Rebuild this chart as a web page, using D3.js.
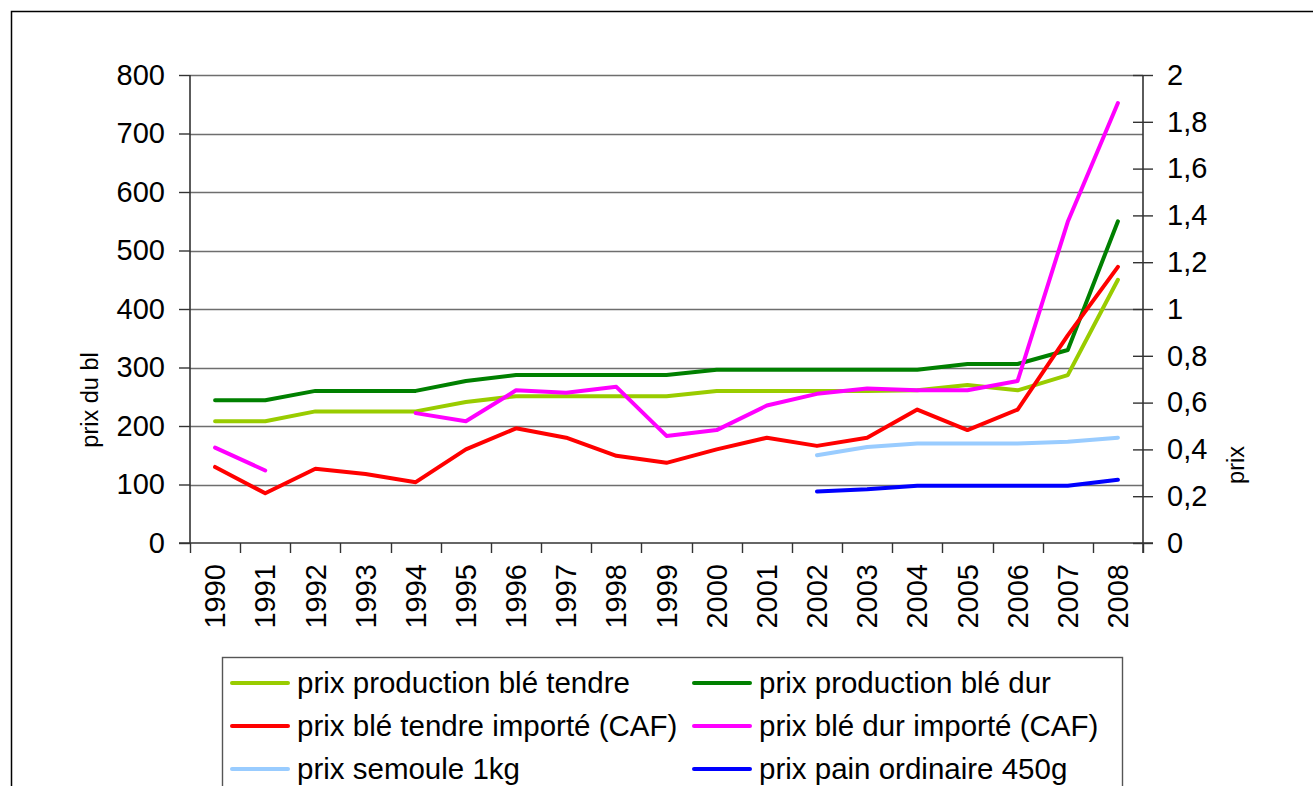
<!DOCTYPE html>
<html>
<head>
<meta charset="utf-8">
<script src="https://cdn.jsdelivr.net/npm/d3@7"></script>
<style>
  html, body { margin: 0; padding: 0; background: #fff; }
  svg { display: block; font-family: "Liberation Sans", Arial, sans-serif; }
</style>
</head>
<body>
<svg id="chart" width="1313" height="786"></svg>
<script>
const years = ["1990", "1991", "1992", "1993", "1994", "1995", "1996", "1997", "1998", "1999",
  "2000", "2001", "2002", "2003", "2004", "2005", "2006", "2007", "2008"];

// left axis series (prix du blé)
const prodTendre = [208, 208, 225, 225, 225, 241, 251, 251, 251, 251, 260, 260, 260, 260, 261, 270, 261, 287, 450];
const prodDur = [244, 244, 260, 260, 260, 277, 287, 287, 287, 287, 296, 296, 296, 296, 296, 306, 306, 330, 550];
const tendreImporte = [130, 85, 127, 118, 104, 160, 196, 180, 149, 137, 160, 180, 166, 180, 228, 193, 228, 355, 472];
const durImporte = [163, 124, null, null, 222, 208, 261, 257, 267, 183, 193, 235, 255, 264, 261, 261, 277, 549, 752];

// right axis series (prix)
const semoule = [null, null, null, null, null, null, null, null, null, null, null, null, 0.375, 0.41, 0.425, 0.425, 0.425, 0.433, 0.45];
const pain = [null, null, null, null, null, null, null, null, null, null, null, null, 0.22, 0.23, 0.245, 0.245, 0.245, 0.245, 0.27];

const leftTicks = [0, 100, 200, 300, 400, 500, 600, 700, 800];
const rightTicks = [0, 0.2, 0.4, 0.6, 0.8, 1, 1.2, 1.4, 1.6, 1.8, 2];

const series = [
  { name: "prix production blé tendre", values: prodTendre, axis: "left", color: "#99cc00" },
  { name: "prix production blé dur", values: prodDur, axis: "left", color: "#008000" },
  { name: "prix blé tendre importé (CAF)", values: tendreImporte, axis: "left", color: "#ff0000" },
  { name: "prix blé dur importé (CAF)", values: durImporte, axis: "left", color: "#ff00ff" },
  { name: "prix semoule 1kg", values: semoule, axis: "right", color: "#99ccff" },
  { name: "prix pain ordinaire 450g", values: pain, axis: "right", color: "#0000ff" },
];

const svg = d3.select("#chart");
const plot = { left: 190, right: 1143, top: 75, bottom: 543 };

// outer chart frame (runs off the right and bottom edges)
svg.append("rect")
  .attr("x", 11.5).attr("y", 11.5)
  .attr("width", 1340).attr("height", 820)
  .attr("fill", "#fff").attr("stroke", "#000").attr("stroke-width", 1.5);

const x = d3.scaleBand().domain(years).range([plot.left, plot.right]);
const yLeft = d3.scaleLinear().domain([0, 800]).range([plot.bottom, plot.top]);
const yRight = d3.scaleLinear().domain([0, 2]).range([plot.bottom, plot.top]);
const fmtRight = (d) => String(+d.toFixed(1)).replace(".", ",");

// gridlines
svg.append("g")
  .selectAll("line")
  .data(leftTicks.slice(1))
  .join("line")
  .attr("x1", plot.left).attr("x2", plot.right)
  .attr("y1", (d) => Math.round(yLeft(d)) + 0.5)
  .attr("y2", (d) => Math.round(yLeft(d)) + 0.5)
  .attr("stroke", "#6e6e6e").attr("stroke-width", 1.4);

// left axis
const gLeft = svg.append("g")
  .attr("transform", `translate(${plot.left},0)`)
  .call(d3.axisLeft(yLeft).tickValues(leftTicks).tickSize(11).tickPadding(14));

// right axis
const gRight = svg.append("g")
  .attr("transform", `translate(${plot.right},0)`)
  .call(d3.axisRight(yRight).tickValues(rightTicks).tickSize(10).tickPadding(14).tickFormat(fmtRight));
gRight.selectAll(".tick line").attr("x1", -10);

// bottom axis with ticks between categories
const gBottom = svg.append("g")
  .attr("transform", `translate(0,${plot.bottom})`)
  .call(d3.axisBottom(x).tickSize(0).tickPadding(0));
gBottom.selectAll(".tick text")
  .attr("transform", "rotate(-90)")
  .attr("text-anchor", "end")
  .attr("dx", "-21px")
  .attr("dy", "0.35em");
gBottom.selectAll("line.sep")
  .data(years.concat(["end"]))
  .join("line")
  .attr("class", "sep")
  .attr("x1", (d, i) => Math.round(plot.left + i * x.bandwidth()) + 0.5)
  .attr("x2", (d, i) => Math.round(plot.left + i * x.bandwidth()) + 0.5)
  .attr("y1", 0).attr("y2", 10)
  .attr("stroke", "#333").attr("stroke-width", 1.4);

[gLeft, gRight, gBottom].forEach((g) => {
  g.select(".domain").attr("stroke", "#333").attr("stroke-width", 1.6);
  g.selectAll(".tick line").attr("stroke", "#333").attr("stroke-width", 1.4);
  g.selectAll(".tick text")
    .attr("fill", "#000")
    .attr("font-size", 29)
    .attr("font-family", "Liberation Sans, Arial, sans-serif");
});
gLeft.select(".domain").attr("d", `M0,${plot.top}V${plot.bottom}`);
gRight.select(".domain").attr("d", `M0,${plot.top}V${plot.bottom + 10}`);
gBottom.select(".domain").attr("d", `M${plot.left - 11},0H${plot.right + 10}`);

// axis titles
svg.append("text")
  .attr("transform", "translate(98,400) rotate(-90)")
  .attr("text-anchor", "middle")
  .attr("font-size", 23.5)
  .text("prix du bl");
svg.append("text")
  .attr("transform", "translate(1244,465) rotate(-90)")
  .attr("text-anchor", "middle")
  .attr("font-size", 23.5)
  .text("prix");

// lines
const lineFor = (scale) => d3.line()
  .defined((d) => d.v != null)
  .x((d) => x(d.year) + x.bandwidth() / 2)
  .y((d) => scale(d.v));

svg.append("g")
  .selectAll("path")
  .data(series)
  .join("path")
  .attr("fill", "none")
  .attr("stroke", (s) => s.color)
  .attr("stroke-width", 4)
  .attr("stroke-linejoin", "round")
  .attr("stroke-linecap", "round")
  .attr("d", (s) => lineFor(s.axis === "left" ? yLeft : yRight)(s.values.map((v, i) => ({ year: years[i], v }))));

// legend
const legend = svg.append("g").attr("transform", "translate(222,657)");
legend.append("rect")
  .attr("x", 0.5).attr("y", 0.5)
  .attr("width", 900).attr("height", 200)
  .attr("fill", "#fff").attr("stroke", "#555").attr("stroke-width", 1.4);

const legendItems = legend.selectAll("g.item")
  .data(series)
  .join("g")
  .attr("class", "item")
  .attr("transform", (d, i) => `translate(${i % 2 === 0 ? 10 : 472},${26 + Math.floor(i / 2) * 43})`);
legendItems.append("line")
  .attr("x1", 0).attr("x2", 56)
  .attr("stroke", (d) => d.color)
  .attr("stroke-width", 4)
  .attr("stroke-linecap", "round");
legendItems.append("text")
  .attr("x", 65)
  .attr("dy", "0.35em")
  .attr("font-size", 29.5)
  .text((d) => d.name);
</script>
</body>
</html>
